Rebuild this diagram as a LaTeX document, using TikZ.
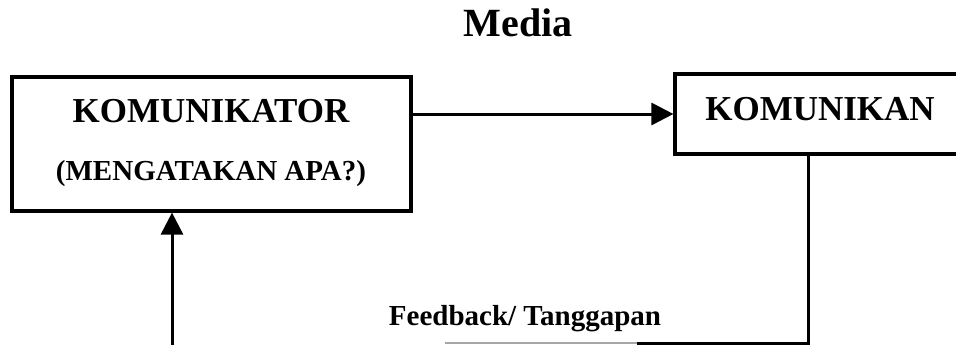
\documentclass[tikz,border=0pt]{standalone}
\usepackage{fontspec}
\setmainfont{Liberation Serif}
\usetikzlibrary{arrows.meta}
\tikzset{
  boxshape/.style={draw, line width=3.2pt, inner sep=0pt, rectangle},
  lbl/.style={anchor=base, inner sep=0pt, font=\bfseries\fontsize{#1}{#1}\selectfont},
  conn/.style={line width=3pt},
  arr/.style={line width=3pt, -{Triangle[length=22pt,width=22pt]}}
}
\begin{document}
\begin{tikzpicture}[x=1pt,y=-1pt]
\useasboundingbox (0,0) rectangle (956,345);
\clip (0,0) rectangle (956,345);
% boxes
\node[boxshape, minimum width=399pt, minimum height=134pt] (b1) at (211.5,144) {};
\node[boxshape, minimum width=290pt, minimum height=80pt] (b2) at (820,114) {};
% texts
\node[lbl=40] (media) at (518,37) {Media};
\node[lbl=35] (t1) at (211,122) {KOMUNIKATOR};
\node[lbl=29] (t2) at (211,180) {(MENGATAKAN APA?)};
\node[lbl=35] (t3) at (820,120) {KOMUNIKAN};
\node[lbl=29] (fbl) at (525,325) {Feedback/ Tanggapan};
% connectors
\draw[arr] (b1.east |- b2.west) -- (b2.west);
\coordinate (fb) at (808,343);
\coordinate (gd) at (637,343);
\coordinate (ge) at (445,343);
\coordinate (ua) at (172,346);
\draw[conn] (b2.south -| fb) -- (fb) -- (gd);
\draw[line width=1.4pt, gray!70] (gd) -- (ge);
\draw[arr] (ua) -- (ua |- b1.south);
\end{tikzpicture}
\end{document}
